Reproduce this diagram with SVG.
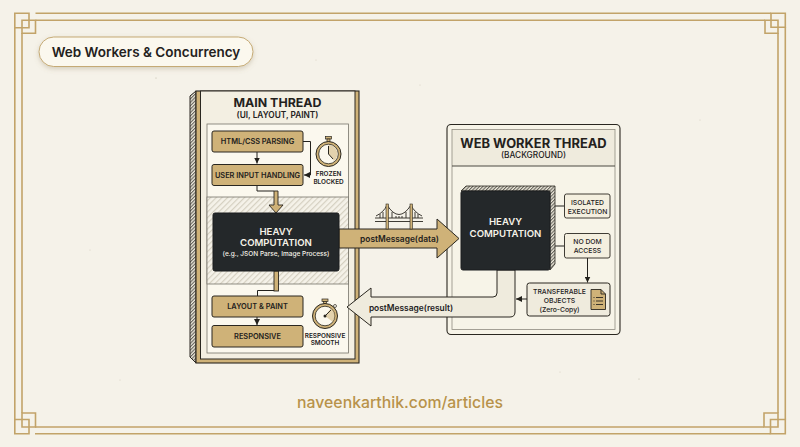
<svg xmlns="http://www.w3.org/2000/svg" width="800" height="447" viewBox="0 0 800 447">
<style>
text{font-family:Inter,"Liberation Sans",sans-serif;text-anchor:middle;fill:#23211c}
.frame{fill:none;stroke:#c2a369;stroke-width:1.6}
.gold{fill:#cfb278;stroke:#2a2720;stroke-width:1}
.box{fill:#f4efdf;stroke:#2a2720;stroke-width:.9}
.line{fill:none;stroke:#23211c;stroke-width:1}
.lbl{font-size:7.4px;font-weight:600}
.sm{font-size:6.4px;font-weight:600}
.wk{font-size:6.8px;font-weight:500}
.wh{fill:#f5f2e8;font-weight:600}
.blk{fill:#24282a;stroke:#1b1d1e;stroke-width:1}
.ic{fill:none;stroke:#2a2720;stroke-width:1}
</style>
<defs>
<pattern id="hatch" width="4" height="4" patternUnits="userSpaceOnUse" patternTransform="rotate(-45)">
<rect width="4" height="4" fill="#f5f2e9"/><rect width="4" height="1.2" fill="#d5d0c1"/>
</pattern>
<pattern id="hatchDark" width="2.4" height="2.4" patternUnits="userSpaceOnUse" patternTransform="rotate(-45)">
<rect width="2.4" height="2.4" fill="#eeeadd"/><rect width="2.4" height="1.100" fill="#66645c"/>
</pattern>
<marker id="ah" markerWidth="7" markerHeight="6" refX="6" refY="3" orient="auto" markerUnits="userSpaceOnUse">
<path d="M0 0L6 3L0 6Z" fill="#23211c"/>
</marker>
<filter id="sh" x="-10%" y="-20%" width="120%" height="150%">
<feDropShadow dx="0" dy="2" stdDeviation="2.500" flood-color="#8a7a55" flood-opacity=".3"/>
</filter>
</defs>
<rect width="800" height="447" fill="#f5f2e9"/>
<g id="specks" fill="#b5ad9a">
<circle cx="156" cy="78" r=".5"/><circle cx="639" cy="379" r=".5"/><circle cx="316" cy="60" r=".4"/><circle cx="700" cy="120" r=".4"/><circle cx="90" cy="250" r=".4"/><circle cx="420" cy="85" r=".4"/><circle cx="560" cy="372" r=".4"/><circle cx="120" cy="380" r=".4"/>
</g>
<g id="frame">
<path class="frame" d="M35.500 13.300H771M35.500 20.300H765M14.800 28V419.500M22 33V413M778 33V413M785.300 27V419.500M35 427H764M35 433.800H770.500"/>
<path class="frame" d="M14.800 13.300H29V27.800H14.800ZM22 20.300H35.500V33.300H22Z"/>
<path class="frame" d="M771 13.300H785.300V27.300H771ZM765 20.300H778V33.300H765Z"/>
<path class="frame" d="M14.800 419.500H29V433.800H14.800ZM22 413H35.500V427H22Z"/>
<path class="frame" d="M770.500 419.500H785.300V433.800H770.500ZM764 413H778V427H764Z"/>
</g>
<g id="title">
<rect x="39" y="37" width="214" height="29.500" rx="14.700" fill="#fbf8ee" stroke="#c5aa75" stroke-width="1" filter="url(#sh)"/>
<text x="146" y="56.600" style="font-size:13.500px;font-weight:600" fill="#141414">Web Workers &amp; Concurrency</text>
</g>
<g id="main-thread">
<path d="M196 91L190 96V357L196 363Z" fill="url(#hatchDark)" stroke="#2a2720"/>
<rect x="196" y="91" width="163" height="272" fill="#cfb278" stroke="#2a2720" stroke-width="1.100"/>
<rect x="200.500" y="91" width="154.500" height="268" fill="#f3efe2" stroke="#2a2720" stroke-width="1"/>
<rect x="207" y="124" width="141.500" height="229" fill="#fbf8ee" stroke="#77746a" stroke-width=".8"/>
<rect x="207" y="197" width="141.500" height="87" fill="url(#hatch)" stroke="#77746a" stroke-width=".8"/>
<text x="277.500" y="107" style="font-size:12.400px;font-weight:700">MAIN THREAD</text>
<text x="277.500" y="118" style="font-size:8.300px;font-weight:600">(UI, LAYOUT, PAINT)</text>
</g>
<g id="worker-thread">
<rect x="447" y="124.500" width="173" height="210" rx="4" fill="#f7f4e8" stroke="#2a2720" stroke-width="1.100"/>
<path d="M452 129.500H615V166H452Z" fill="#efebdd"/>
<rect x="452" y="129.500" width="163" height="200" fill="none" stroke="#8f8c80" stroke-width=".8"/>
<path d="M452 166H615" stroke="#4a4840" fill="none"/>
<text x="533.500" y="147.500" style="font-size:12.900px;font-weight:700">WEB WORKER THREAD</text>
<text x="533.500" y="158" style="font-size:8.300px;font-weight:500">(BACKGROUND)</text>
</g>
<g id="connectors">
<path d="M257 186V191H274" class="line"/>
<path d="M274 191H278V205H283L276 213L269 205H274Z" fill="#cfb278" stroke="#2a2720" stroke-width=".9"/>
<rect x="274" y="271" width="4.500" height="20" fill="#cfb278" stroke="#2a2720" stroke-width=".9"/>
<path d="M274 290.500H257.500V296" class="line"/>
<path d="M257 152V163.500" class="line" marker-end="url(#ah)"/>
<path d="M303 141.500H310.500V175H304" class="line" marker-end="url(#ah)"/>
<path d="M257 317V325" class="line" marker-end="url(#ah)"/>
<path d="M339 229H437V219L459 238.500L437 258V248H339Z" fill="#cfb278" stroke="#2a2720" stroke-width="1"/>
<path d="M497 270V293Q497 297 493 297H371V288L347 307L371 326V317H510Q515 317 515 312V270Z" fill="#efebdd" stroke="#2a2720" stroke-width="1"/>
<path d="M555 206H564M555 246H564" class="line"/>
<path d="M587.500 258V282.500" class="line" marker-end="url(#ah)"/>
<path d="M527 299H516" class="line" marker-end="url(#ah)"/>
<text x="399.500" y="242" style="font-size:8.400px;font-weight:600">postMessage(data)</text>
<text x="411" y="310.500" style="font-size:8.400px;font-weight:600">postMessage(result)</text>
</g>
<g id="html-css"><rect class="gold" x="212" y="131" width="91" height="21" rx="2"/><text class="lbl" x="257.500" y="144">HTML/CSS PARSING</text></g>
<g id="user-input"><rect class="gold" x="212" y="164.500" width="91" height="21" rx="2"/><text class="lbl" x="257.500" y="177.700">USER INPUT HANDLING</text></g>
<g id="clock-frozen">
<rect x="325.500" y="136.500" width="6" height="2.500" fill="#cfb278" stroke="#2a2720" stroke-width=".7"/>
<rect x="327" y="139" width="3" height="2.500" fill="#cfb278" stroke="#2a2720" stroke-width=".7"/>
<circle cx="328.500" cy="154" r="12.500" fill="#cfb278" stroke="#2a2720"/>
<circle cx="328.500" cy="154" r="9.800" fill="#fbf8ee" stroke="#2a2720" stroke-width=".8"/>
<path d="M328.500 154V145A9 9 0 0 1 334 161Z" fill="#cfb278" opacity=".55"/>
<path d="M328.500 154V146M328.500 154L333 159" class="ic"/>
<text class="sm" x="328.500" y="176">FROZEN</text><text class="sm" x="328.500" y="183.800">BLOCKED</text>
</g>
<g id="heavy-main">
<rect class="blk" x="213" y="213" width="126" height="58" rx="2"/>
<text class="wh" x="276" y="235" style="font-size:9.600px">HEAVY</text>
<text class="wh" x="276" y="246" style="font-size:9.600px">COMPUTATION</text>
<text class="wh" x="276" y="256" style="font-size:6.500px;font-weight:500">(e.g., JSON Parse, Image Process)</text>
</g>
<g id="layout-paint"><rect class="gold" x="212" y="296" width="91" height="21" rx="2"/><text class="lbl" x="257.500" y="309">LAYOUT &amp; PAINT</text></g>
<g id="responsive"><rect class="gold" x="212" y="325.500" width="91" height="21.500" rx="2"/><text class="lbl" x="257.500" y="339">RESPONSIVE</text></g>
<g id="clock-smooth">
<rect x="322" y="299" width="6" height="2.500" fill="#cfb278" stroke="#2a2720" stroke-width=".7"/>
<rect x="323.500" y="301.500" width="3" height="2" fill="#cfb278" stroke="#2a2720" stroke-width=".7"/>
<circle cx="335" cy="306" r="1.500" fill="#fbf8ee" stroke="#2a2720" stroke-width=".7"/>
<circle cx="325" cy="316" r="12.500" fill="#cfb278" stroke="#2a2720"/>
<circle cx="325" cy="316" r="9.800" fill="#fbf8ee" stroke="#2a2720" stroke-width=".8"/>
<path d="M325 316L331 308A10 10 0 0 1 333 322Z" fill="#cfb278" opacity=".55"/>
<path d="M325 316L331 310" class="ic"/><circle cx="325" cy="316" r="1.500" fill="#2a2720"/>
<text class="sm" x="325" y="337.500">RESPONSIVE</text><text class="sm" x="325" y="345">SMOOTH</text>
</g>
<g id="bridge" fill="none" stroke="#2a2720" stroke-width=".9">
<path d="M375 218H423M375 221.500H423"/>
<path d="M376 216Q384 212 387 205M387 205Q399 224 411 205M411 205Q414 212 422 216"/>
<path d="M380 214V218M383 212V218M392 212V218M396 216V218M399 216V218M402 216V218M406 212V218M415 212V218M418 214V218"/>
<rect x="386" y="204" width="2.500" height="25" fill="#cfb278" stroke-width=".6"/>
<rect x="410" y="204" width="2.500" height="25" fill="#cfb278" stroke-width=".6"/>
</g>
<g id="heavy-worker">
<path d="M461 191L466 186H555V264L550 270V191Z" fill="url(#hatchDark)" stroke="#2a2720" stroke-width=".8"/>
<rect class="blk" x="461" y="191" width="89" height="79" rx="2"/>
<text class="wh" x="505.500" y="225.300" style="font-size:9.600px">HEAVY</text>
<text class="wh" x="505.500" y="236.500" style="font-size:9.600px">COMPUTATION</text>
</g>
<g id="isolated"><rect class="box" x="564.500" y="194" width="45.500" height="24" rx="2"/><text class="wk" x="587.500" y="204.500">ISOLATED</text><text class="wk" x="587.500" y="213.500">EXECUTION</text></g>
<g id="no-dom"><rect class="box" x="564.500" y="233.500" width="45.500" height="24.500" rx="2"/><text class="wk" x="587.500" y="244">NO DOM</text><text class="wk" x="587.500" y="253">ACCESS</text></g>
<g id="transferable">
<rect x="527" y="283" width="83" height="33" rx="2.500" fill="#efebdd" stroke="#2a2720"/>
<text class="wk" x="559.500" y="293.500">TRANSFERABLE</text><text class="wk" x="559.500" y="302.500">OBJECTS</text><text class="wk" x="559.500" y="311.500">(Zero-Copy)</text>
<path d="M591 289.500H601L605.500 294V309.500H591Z" fill="#cfb278" stroke="#2a2720" stroke-width=".9"/>
<path d="M601 289.500V294H605.500M593.500 297.500H594.500M593.500 301H594.500M593.500 304.500H594.500M596 297.500H603M596 301H603M596 304.500H603" fill="none" stroke="#2a2720" stroke-width=".9"/>
</g>
<g id="footer"><text x="400" y="407.500" style="font-size:15.800px;font-weight:500;fill:#b8924a">naveenkarthik.com/articles</text></g>
</svg>
